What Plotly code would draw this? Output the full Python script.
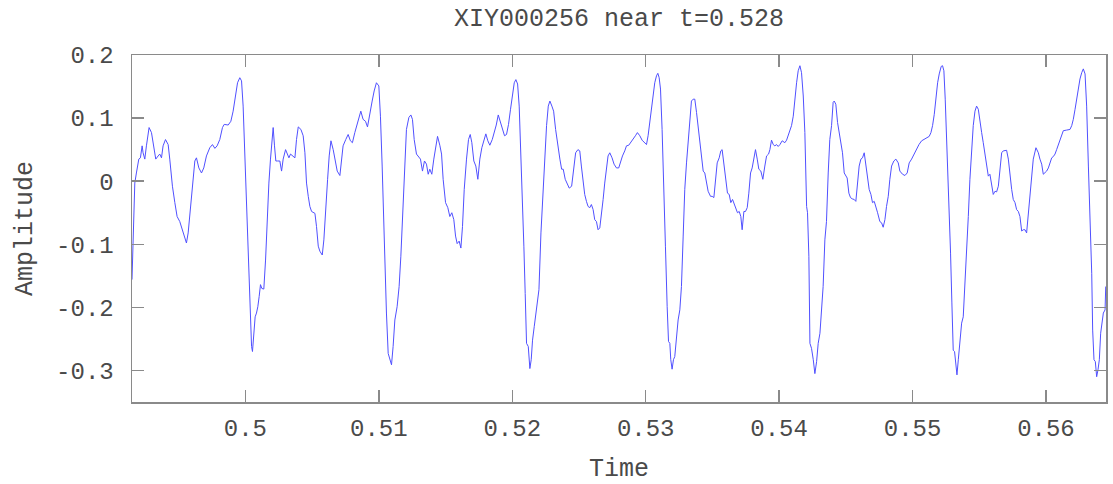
import plotly.graph_objects as go

title_text = "XIY000256 near t=0.528"
x_label = "Time"
y_label = "Amplitude"

x_tick_vals = [0.5, 0.51, 0.52, 0.53, 0.54, 0.55, 0.56]
x_tick_text = ["0.5", "0.51", "0.52", "0.53", "0.54", "0.55", "0.56"]
y_tick_vals = [0.2, 0.1, 0.0, -0.1, -0.2, -0.3]
y_tick_text = ["0.2", "0.1", "0", "-0.1", "-0.2", "-0.3"]

# segment 1: 0.4915 .. 0.5071
t_seg1 = [0.4915, 0.49158, 0.49171, 0.49183, 0.49201, 0.49213, 0.49226, 0.49233, 0.49246, 0.49258,
          0.49278, 0.49296, 0.49308, 0.49328, 0.49346, 0.49358, 0.49371, 0.49383, 0.49401, 0.49421,
          0.49433, 0.49453, 0.49471, 0.49488, 0.49508, 0.49528, 0.49546, 0.49558, 0.49571, 0.49588,
          0.49608, 0.49621, 0.49633, 0.49651, 0.49671, 0.49688, 0.49708, 0.49733, 0.49753, 0.49771,
          0.49788, 0.49808, 0.49828, 0.49841, 0.49871, 0.49891, 0.49908, 0.49926, 0.49941, 0.49958,
          0.49971, 0.49983, 0.49996, 0.50008, 0.50021, 0.50033, 0.50046, 0.50053, 0.50063, 0.50073,
          0.50083, 0.50093, 0.50103, 0.50113, 0.50123, 0.50138, 0.50151, 0.50163, 0.50176, 0.50188,
          0.50201, 0.50208, 0.50218, 0.50228, 0.50241, 0.50258, 0.50271, 0.50283, 0.50301, 0.50313,
          0.50326, 0.50338, 0.50353, 0.50371, 0.50383, 0.50396, 0.50416, 0.50433, 0.50446, 0.50458,
          0.50471, 0.50483, 0.50496, 0.50508, 0.50521, 0.50533, 0.50546, 0.50558, 0.50576, 0.50588,
          0.50601, 0.50616, 0.50628, 0.50641, 0.50658, 0.50673, 0.50688, 0.50708]
a_seg1 = [-0.156, -0.093, -0.003, 0.013, 0.035, 0.037, 0.056, 0.045, 0.035, 0.056,
          0.085, 0.077, 0.061, 0.035, 0.040, 0.043, 0.037, 0.056, 0.066, 0.058,
          0.035, -0.008, -0.034, -0.056, -0.064, -0.079, -0.093, -0.098, -0.082, -0.040,
          0.013, 0.032, 0.037, 0.021, 0.013, 0.021, 0.040, 0.053, 0.058, 0.052,
          0.056, 0.066, 0.085, 0.090, 0.089, 0.095, 0.111, 0.133, 0.156, 0.164,
          0.159, 0.119, 0.040, -0.050, -0.140, -0.209, -0.262, -0.270, -0.241, -0.215,
          -0.209, -0.199, -0.183, -0.164, -0.170, -0.171, -0.125, -0.056, -0.003, 0.035,
          0.072, 0.085, 0.056, 0.032, 0.032, 0.032, 0.016, 0.035, 0.050, 0.045,
          0.037, 0.043, 0.040, 0.037, 0.066, 0.086, 0.082, 0.072, 0.045, -0.003,
          -0.024, -0.040, -0.048, -0.050, -0.051, -0.072, -0.103, -0.111, -0.117, -0.093,
          -0.040, 0.003, 0.040, 0.064, 0.050, 0.029, 0.016, 0.009]

# segment 2: 0.5072 .. 0.5249
t_seg2 = [0.50720, 0.50732, 0.50752, 0.50770, 0.50787, 0.50802, 0.50820, 0.50837, 0.50852, 0.50865,
          0.50882, 0.50900, 0.50915, 0.50932, 0.50950, 0.50965, 0.50982, 0.51000, 0.51012, 0.51025,
          0.51035, 0.51045, 0.51057, 0.51070, 0.51082, 0.51095, 0.51107, 0.51120, 0.51137, 0.51152,
          0.51165, 0.51177, 0.51195, 0.51207, 0.51225, 0.51240, 0.51252, 0.51265, 0.51282, 0.51300,
          0.51312, 0.51327, 0.51342, 0.51357, 0.51370, 0.51382, 0.51397, 0.51412, 0.51427, 0.51440,
          0.51457, 0.51470, 0.51482, 0.51500, 0.51517, 0.51532, 0.51547, 0.51562, 0.51575, 0.51587,
          0.51602, 0.51615, 0.51627, 0.51640, 0.51657, 0.51672, 0.51685, 0.51697, 0.51712, 0.51727,
          0.51742, 0.51757, 0.51772, 0.51787, 0.51802, 0.51817, 0.51832, 0.51850, 0.51865, 0.51880,
          0.51895, 0.51912, 0.51927, 0.51942, 0.51957, 0.51972, 0.51987, 0.52002, 0.52015, 0.52027,
          0.52040, 0.52052, 0.52065, 0.52077, 0.52087, 0.52097, 0.52107, 0.52120, 0.52132, 0.52142,
          0.52152, 0.52165, 0.52182, 0.52200, 0.52215, 0.52232, 0.52245, 0.52257, 0.52270, 0.52282,
          0.52297, 0.52310, 0.52325, 0.52340, 0.52357, 0.52370, 0.52382, 0.52397, 0.52412, 0.52427,
          0.52445, 0.52457, 0.52475, 0.52492]
a_seg2 = [0.035, 0.056, 0.066, 0.074, 0.064, 0.061, 0.077, 0.090, 0.103, 0.111,
          0.098, 0.095, 0.086, 0.109, 0.127, 0.143, 0.156, 0.151, 0.103, 0.024,
          -0.064, -0.135, -0.209, -0.273, -0.283, -0.291, -0.262, -0.220, -0.199, -0.167,
          -0.119, -0.064, 0.003, 0.082, 0.101, 0.105, 0.098, 0.066, 0.043, 0.037,
          0.035, 0.016, 0.032, 0.027, 0.011, 0.019, 0.011, 0.035, 0.056, 0.071,
          0.057, 0.043, 0.003, -0.034, -0.042, -0.056, -0.050, -0.061, -0.087, -0.099,
          -0.095, -0.106, -0.072, -0.013, 0.035, 0.066, 0.074, 0.061, 0.032, 0.024,
          0.003, 0.035, 0.053, 0.064, 0.075, 0.064, 0.057, 0.066, 0.077, 0.089,
          0.105, 0.094, 0.083, 0.072, 0.074, 0.090, 0.114, 0.138, 0.156, 0.161,
          0.154, 0.119, 0.045, -0.050, -0.103, -0.178, -0.257, -0.262, -0.297, -0.283,
          -0.252, -0.230, -0.204, -0.172, -0.082, -0.013, 0.061, 0.088, 0.119, 0.127,
          0.119, 0.111, 0.082, 0.058, 0.035, 0.019, 0.019, 0.003, -0.003, -0.011,
          -0.008, 0.013, 0.045, 0.050]

# segment 3: 0.5251 .. 0.5431
t_seg3 = [0.52506, 0.52518, 0.52531, 0.52543, 0.52556, 0.52568, 0.52581, 0.52593, 0.52606, 0.52618,
          0.52631, 0.52643, 0.52656, 0.52668, 0.52681, 0.52693, 0.52706, 0.52718, 0.52731, 0.52748,
          0.52763, 0.52781, 0.52798, 0.52813, 0.52826, 0.52843, 0.52856, 0.52873, 0.52888, 0.52906,
          0.52923, 0.52938, 0.52956, 0.52973, 0.52988, 0.53006, 0.53018, 0.53031, 0.53043, 0.53056,
          0.53068, 0.53081, 0.53091, 0.53101, 0.53111, 0.53123, 0.53136, 0.53148, 0.53161, 0.53171,
          0.53181, 0.53188, 0.53198, 0.53208, 0.53218, 0.53231, 0.53243, 0.53256, 0.53268, 0.53281,
          0.53293, 0.53306, 0.53318, 0.53331, 0.53343, 0.53356, 0.53368, 0.53381, 0.53393, 0.53406,
          0.53418, 0.53431, 0.53443, 0.53456, 0.53468, 0.53486, 0.53498, 0.53511, 0.53523, 0.53536,
          0.53551, 0.53563, 0.53573, 0.53586, 0.53598, 0.53613, 0.53626, 0.53638, 0.53651, 0.53663,
          0.53676, 0.53688, 0.53701, 0.53713, 0.53723, 0.53736, 0.53748, 0.53761, 0.53773, 0.53786,
          0.53798, 0.53811, 0.53823, 0.53836, 0.53848, 0.53863, 0.53878, 0.53893, 0.53906, 0.53921,
          0.53931, 0.53943, 0.53956, 0.53968, 0.53981, 0.53993, 0.54006, 0.54023, 0.54043, 0.54056,
          0.54068, 0.54081, 0.54093, 0.54106, 0.54118, 0.54131, 0.54143, 0.54156, 0.54168, 0.54181,
          0.54193, 0.54206, 0.54213, 0.54223, 0.54231, 0.54243, 0.54256, 0.54268, 0.54281, 0.54293,
          0.54306]
a_seg3 = [0.048, 0.024, -0.003, -0.021, -0.032, -0.040, -0.042, -0.037, -0.045, -0.061,
          -0.064, -0.077, -0.074, -0.056, -0.029, -0.003, 0.024, 0.040, 0.045, 0.037,
          0.027, 0.021, 0.021, 0.032, 0.040, 0.048, 0.056, 0.057, 0.061, 0.066,
          0.072, 0.077, 0.072, 0.065, 0.061, 0.058, 0.072, 0.093, 0.109, 0.130,
          0.156, 0.167, 0.171, 0.164, 0.146, 0.082, -0.034, -0.103, -0.199, -0.254,
          -0.257, -0.283, -0.298, -0.283, -0.278, -0.241, -0.220, -0.204, -0.167, -0.087,
          -0.013, 0.029, 0.066, 0.093, 0.127, 0.130, 0.130, 0.109, 0.085, 0.066,
          0.045, 0.016, 0.013, -0.003, -0.016, -0.024, -0.024, -0.026, -0.003, 0.029,
          0.037, 0.048, 0.050, 0.029, 0.008, -0.019, -0.021, -0.034, -0.029, -0.037,
          -0.045, -0.050, -0.048, -0.056, -0.077, -0.048, -0.048, -0.042, -0.019, 0.013,
          0.021, 0.040, 0.050, 0.035, 0.019, 0.016, 0.003, 0.024, 0.040, 0.043,
          0.050, 0.065, 0.058, 0.056, 0.058, 0.055, 0.058, 0.064, 0.061, 0.065,
          0.072, 0.080, 0.088, 0.103, 0.133, 0.156, 0.175, 0.183, 0.172, 0.135,
          0.077, -0.040, -0.050, -0.119, -0.257, -0.265, -0.283, -0.305, -0.286, -0.257,
          -0.241]

# segment 4: 0.5432 .. 0.5645
t_seg4 = [0.54318, 0.54330, 0.54343, 0.54355, 0.54368, 0.54380, 0.54393, 0.54405, 0.54413, 0.54425,
          0.54438, 0.54450, 0.54463, 0.54475, 0.54488, 0.54500, 0.54510, 0.54523, 0.54535, 0.54548,
          0.54563, 0.54575, 0.54588, 0.54600, 0.54613, 0.54625, 0.54638, 0.54650, 0.54663, 0.54675,
          0.54688, 0.54700, 0.54713, 0.54725, 0.54738, 0.54755, 0.54768, 0.54780, 0.54793, 0.54805,
          0.54818, 0.54830, 0.54843, 0.54860, 0.54875, 0.54893, 0.54905, 0.54925, 0.54943, 0.54960,
          0.54975, 0.54993, 0.55010, 0.55030, 0.55048, 0.55068, 0.55085, 0.55105, 0.55125, 0.55138,
          0.55150, 0.55163, 0.55175, 0.55188, 0.55200, 0.55215, 0.55225, 0.55235, 0.55245, 0.55255,
          0.55265, 0.55275, 0.55285, 0.55295, 0.55305, 0.55315, 0.55325, 0.55333, 0.55343, 0.55355,
          0.55368, 0.55380, 0.55393, 0.55405, 0.55418, 0.55430, 0.55443, 0.55455, 0.55468, 0.55480,
          0.55493, 0.55505, 0.55518, 0.55530, 0.55543, 0.55555, 0.55568, 0.55580, 0.55593, 0.55605,
          0.55618, 0.55630, 0.55643, 0.55655, 0.55668, 0.55680, 0.55693, 0.55705, 0.55718, 0.55730,
          0.55743, 0.55755, 0.55768, 0.55780, 0.55793, 0.55805, 0.55818, 0.55830, 0.55843, 0.55855,
          0.55868, 0.55880, 0.55893, 0.55905, 0.55925, 0.55943, 0.55955, 0.55968, 0.55980, 0.55993,
          0.56005, 0.56018, 0.56030, 0.56043, 0.56055, 0.56068, 0.56080, 0.56093, 0.56105, 0.56118,
          0.56130, 0.56155, 0.56180, 0.56193, 0.56205, 0.56218, 0.56230, 0.56243, 0.56255, 0.56268,
          0.56280, 0.56293, 0.56305, 0.56318, 0.56330, 0.56343, 0.56350, 0.56360, 0.56370, 0.56380,
          0.56390, 0.56400, 0.56410, 0.56420, 0.56430, 0.56443, 0.56448]
a_seg4 = [-0.199, -0.167, -0.093, -0.064, 0.013, 0.066, 0.088, 0.125, 0.127, 0.122,
          0.093, 0.077, 0.066, 0.045, 0.013, 0.008, 0.005, -0.019, -0.026, -0.028,
          -0.029, -0.032, -0.003, 0.024, 0.035, 0.037, 0.045, 0.024, 0.003, -0.013,
          -0.021, -0.034, -0.032, -0.040, -0.050, -0.064, -0.066, -0.073, -0.061, -0.040,
          -0.024, 0.003, 0.024, 0.032, 0.035, 0.029, 0.016, 0.011, 0.009, 0.013,
          0.029, 0.035, 0.043, 0.050, 0.058, 0.064, 0.066, 0.069, 0.071, 0.077,
          0.088, 0.106, 0.133, 0.156, 0.170, 0.182, 0.183, 0.175, 0.130, 0.072,
          0.003, -0.050, -0.114, -0.193, -0.268, -0.270, -0.294, -0.307, -0.283, -0.252,
          -0.225, -0.215, -0.167, -0.119, -0.056, 0.003, 0.050, 0.088, 0.111, 0.119,
          0.114, 0.093, 0.077, 0.061, 0.045, 0.029, 0.008, 0.011, -0.008, -0.021,
          -0.016, -0.017, -0.008, 0.019, 0.045, 0.048, 0.048, 0.049, 0.035, 0.008,
          -0.013, -0.029, -0.034, -0.045, -0.048, -0.056, -0.079, -0.077, -0.077, -0.082,
          -0.050, -0.013, 0.013, 0.035, 0.053, 0.045, 0.035, 0.027, 0.011, 0.013,
          0.016, 0.021, 0.029, 0.037, 0.039, 0.043, 0.050, 0.058, 0.066, 0.074,
          0.080, 0.081, 0.082, 0.088, 0.098, 0.114, 0.130, 0.146, 0.162, 0.172,
          0.178, 0.170, 0.119, 0.024, -0.050, -0.146, -0.236, -0.283, -0.286, -0.310,
          -0.299, -0.283, -0.241, -0.220, -0.209, -0.204, -0.167]

time = t_seg1 + t_seg2 + t_seg3 + t_seg4
amplitude = a_seg1 + a_seg2 + a_seg3 + a_seg4

FONT = "Liberation Mono, Courier New, monospace"
AXIS_COLOR = "#8a8a8a"
TEXT_COLOR = "#4a4a4a"

fig = go.Figure()
fig.add_trace(go.Scatter(
    x=time, y=amplitude, mode="lines",
    line=dict(color="rgb(80,80,255)", width=1),
    showlegend=False, hoverinfo="skip",
))

axis_common = dict(
    showgrid=False, zeroline=False, automargin=False,
    showline=True, linecolor=AXIS_COLOR, linewidth=1.5,
    mirror="ticks", ticks="inside", ticklen=12, tickcolor=AXIS_COLOR, tickwidth=1.5,
    tickfont=dict(family=FONT, size=24, color=TEXT_COLOR),
)

fig.update_layout(
    width=1113, height=484,
    margin=dict(l=132, r=7, t=55, b=82, autoexpand=False),
    paper_bgcolor="white", plot_bgcolor="white",
    title=dict(text=title_text, x=0.5, xref="paper", xanchor="center",
               y=1 - 17 / 484, yref="container", yanchor="middle",
               font=dict(family=FONT, size=25, color=TEXT_COLOR)),
    xaxis=dict(range=[0.4915, 0.5645], tickvals=x_tick_vals, ticktext=x_tick_text,
               ticklabelstandoff=4,
               title=dict(text=x_label, font=dict(family=FONT, size=25, color=TEXT_COLOR), standoff=19),
               **axis_common),
    yaxis=dict(range=[-0.35, 0.2], tickvals=y_tick_vals, ticktext=y_tick_text,
               ticklabelstandoff=12,
               title=dict(text=y_label, font=dict(family=FONT, size=25, color=TEXT_COLOR), standoff=16),
               **axis_common),
)

fig.write_html(
    "out.html",
    config={"displayModeBar": False, "staticPlot": True},
    post_script="document.body.style.margin='0';document.body.style.overflow='hidden';",
)
